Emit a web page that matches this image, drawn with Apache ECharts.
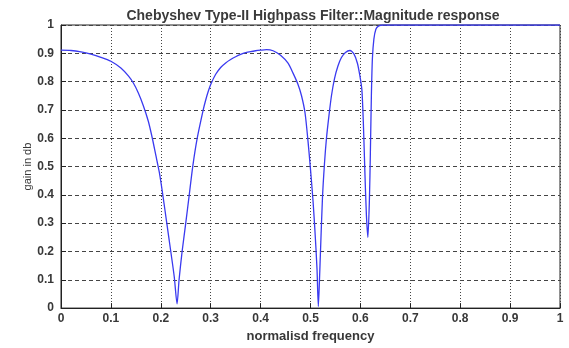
<!DOCTYPE html>
<html>
<head>
<meta charset="utf-8">
<script src="https://cdn.jsdelivr.net/npm/echarts@6/dist/echarts.min.js"></script>
<style>html,body{margin:0;padding:0;background:#fff}#c{width:569px;height:348px}</style>
</head>
<body>
<div id="c"></div>
<script>
var titleText = 'Chebyshev Type-II Highpass Filter::Magnitude response';
var xName = 'normalisd frequency';
var yName = 'gain in db';
var freq = [0,0.02,0.04,0.06,0.08,0.10,0.12,0.135,0.145,0.155,0.165,0.175,0.183,0.19,0.197,0.204,0.212,0.220,0.227,0.2326,
  0.2366,0.2427,0.250,0.257,0.264,0.273,0.285,0.290,0.295,0.300,0.310,0.320,0.330,0.340,0.350,0.360,0.370,0.380,0.390,0.400,0.412,0.425,0.44,0.455,0.465,0.475,0.482,0.489,0.495,0.500,0.505,0.509,0.513,0.5157,
  0.518,0.520,0.524,0.528,0.532,0.537,0.542,0.548,0.555,0.562,0.570,0.579,0.587,0.594,0.599,0.603,0.606,0.609,0.612,0.615,
  0.618,0.620,0.622,0.624,0.627,0.631,0.636,0.645,0.66,0.8,1.0];
var gain = [0.911,0.910,0.905,0.897,0.886,0.872,0.848,0.82,0.795,0.76,0.715,0.66,0.60,0.54,0.48,0.40,0.30,0.20,0.11,0.015,
  0.10,0.20,0.30,0.40,0.50,0.60,0.70,0.735,0.765,0.79,0.826,0.85,0.866,0.878,0.888,0.896,0.902,0.906,0.909,0.911,0.913,0.909,0.893,0.865,0.83,0.79,0.75,0.69,0.59,0.49,0.38,0.27,0.14,0.006,
  0.10,0.20,0.39,0.51,0.60,0.68,0.75,0.81,0.855,0.885,0.903,0.91,0.898,0.865,0.82,0.77,0.65,0.48,0.33,0.25,
  0.38,0.55,0.75,0.88,0.95,0.985,0.996,1.0,1.0,1.0,1.0];
var pts = freq.map(function(f,i){return [f,gain[i]];});
var chart = echarts.init(document.getElementById('c'), null, {renderer:'canvas'});
var ff = 'Liberation Sans, Arial, sans-serif';
var lblStyle = {color:'#383838', fontFamily:ff, fontSize:12, fontWeight:'bold'};
chart.setOption({
  animation:false,
  backgroundColor:'#fff',
  title:{text:titleText, left:308, top:4, textAlign:'center',
    textStyle:{color:'#3a3a3a', fontFamily:ff, fontSize:14, fontWeight:'bold'}},
  grid:{left:61, right:9, top:25, bottom:35, show:true, borderColor:'#222', borderWidth:1, backgroundColor:'transparent'},
  xAxis:{type:'value', min:0, max:1, interval:0.1,
    name:xName, nameLocation:'middle', nameGap:21,
    nameTextStyle:{color:'#383838', fontFamily:ff, fontSize:13, fontWeight:'bold'},
    axisLine:{show:true, lineStyle:{color:'#222'}},
    axisTick:{show:true, inside:true, length:5, lineStyle:{color:'#222'}},
    axisLabel:Object.assign({margin:5}, lblStyle),
    splitLine:{show:true, lineStyle:{color:'#444', type:[1,2], width:1}}},
  yAxis:{type:'value', min:0, max:1, interval:0.1,
    name:yName, nameLocation:'middle', nameGap:28, nameRotate:90, nameMoveOverlap:false,
    nameTextStyle:{color:'#383838', fontFamily:ff, fontSize:11},
    axisLine:{show:true, lineStyle:{color:'#222'}},
    axisTick:{show:true, inside:true, length:5, lineStyle:{color:'#222'}},
    axisLabel:Object.assign({margin:7}, lblStyle),
    splitLine:{show:true, lineStyle:{color:'#444', type:[4,3], width:1}}},
  series:[{type:'line', data:pts, showSymbol:false, smooth:0.25,
    lineStyle:{color:'#3a3af0', width:1.3}, clip:true}]
});
</script>
</body>
</html>
